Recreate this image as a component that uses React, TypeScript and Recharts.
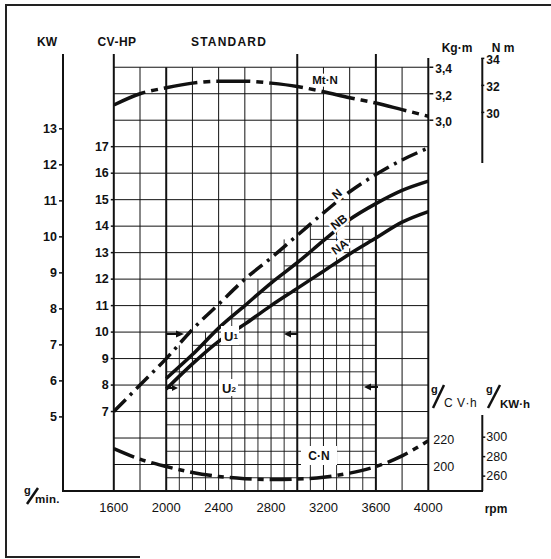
import React from 'react';
import { ComposedChart, Line, XAxis, YAxis, ReferenceLine } from 'recharts';

// ---------- data ----------
const rpm = [1600, 1800, 2000, 2200, 2400, 2600, 2800, 3000, 3200, 3400, 3600, 3800, 4000];
const powerN = [7.0, 8.0, 9.0, 10.1, 11.05, 12.0, 12.8, 13.65, 14.5, 15.3, 15.95, 16.5, 16.95];
const powerNB = [null, null, 8.25, 9.15, 10.15, 11.0, 11.85, 12.62, 13.45, 14.25, 14.85, 15.35, 15.7];
const powerNA = [null, null, 7.85, 8.8, 9.65, 10.3, 11.0, 11.65, 12.3, 12.95, 13.55, 14.15, 14.55];
const torqueMtN = [3.115, 3.2, 3.245, 3.28, 3.295, 3.295, 3.28, 3.255, 3.215, 3.17, 3.13, 3.08, 3.03];
const consumptionCN = [212, 204, 198.5, 194, 191, 189.3, 188.6, 189, 190.4, 193.5, 198.5, 206.5, 218];

// ---------- tick labels ----------
const rpmTicks = [1600, 2000, 2400, 2800, 3200, 3600, 4000];
const cvTicks = [7, 8, 9, 10, 11, 12, 13, 14, 15, 16, 17];
const kwTicks = [5, 6, 7, 8, 9, 10, 11, 12, 13];
const kgmTicks = [3.0, 3.2, 3.4];
const nmTicks = [30, 32, 34];
const gcvTicks = [200, 220];
const gkwTicks = [260, 280, 300];

// ---------- grid ----------
const gridRpm = [1800, 2000, 2200, 2400, 2600, 2800, 3000, 3200, 3400, 3600, 3800];
const thickRpm = [2000, 3000, 3600];
const tallRpm = [3000, 3600];
const gridHp = [5, 6, 7, 8, 9, 10, 11, 12, 13, 14, 15, 16, 17, 18, 19, 20];
const fineV = [
  { rpm: 2100, top: 9.5 }, { rpm: 2300, top: 10 }, { rpm: 2500, top: 11 },
  { rpm: 2700, top: 12 }, { rpm: 2900, top: 13.5 }, { rpm: 3100, top: 14 },
  { rpm: 3300, top: 14 }, { rpm: 3500, top: 14 },
];
const fineH = [
  { hp: 4.5, from: 2000 }, { hp: 5.5, from: 2000 }, { hp: 6.5, from: 2000 },
  { hp: 7.5, from: 2000 }, { hp: 8.5, from: 2000 }, { hp: 9.5, from: 2200 },
  { hp: 10.5, from: 2500 }, { hp: 11.5, from: 2700 }, { hp: 12.5, from: 2900 },
  { hp: 13.5, from: 3100 },
];

// ---------- unit relations ----------
const CV_PER_KW = 1.3596;
const NM_PER_KGM = 9.80665;
const HP_MIN = 4;
const HP_MAX = 20.5;
const kgmAt = (hp: number) => 3.4 - 0.2 * (20 - hp);
const gcvAt = (hp: number) => 200 + 20 * (hp - 5);

const data = rpm.map((r, i) => ({
  rpm: r,
  N: powerN[i],
  NB: powerNB[i],
  NA: powerNA[i],
  Mt: torqueMtN[i],
  CN: consumptionCN[i],
}));

const FONT = '"Liberation Sans", Arial, Helvetica, sans-serif';
const INK = '#111';

const mkTick = (o: { anchor: string; size: number; weight?: any; dy?: number; fmt?: (v: number) => string }) =>
  (p: any) => (
    <text
      x={p.x}
      y={p.y + (o.dy || 0)}
      textAnchor={o.anchor}
      dominantBaseline="central"
      fontSize={o.size}
      fontWeight={o.weight || 'normal'}
      fontFamily={FONT}
      fill={INK}
    >
      {o.fmt ? o.fmt(p.payload.value) : p.payload.value}
    </text>
  );

// stable (module level) axis settings
const tickX = mkTick({ anchor: 'middle', size: 13 });
const tickHp = mkTick({ anchor: 'end', size: 12.5, weight: 'bold' });
const tickKw = mkTick({ anchor: 'end', size: 12.5, weight: 'bold' });
const tickGcv = mkTick({ anchor: 'start', size: 12.5, dy: 2 });
const tickKgm = mkTick({ anchor: 'start', size: 12, weight: 'bold', dy: 2, fmt: (v) => v.toFixed(1).replace('.', ',') });
const tickNm = mkTick({ anchor: 'start', size: 12, weight: 'bold', dy: 2 });
const tickGkw = mkTick({ anchor: 'start', size: 12.5 });
const AXIS_LINE = { stroke: INK, strokeWidth: 2 };
const TICK_LINE = { stroke: INK, strokeWidth: 1.5 };
const X_DOMAIN = [1600, 4000];
const HP_DOMAIN = [HP_MIN, HP_MAX];
const KW_DOMAIN = [HP_MIN / CV_PER_KW, HP_MAX / CV_PER_KW];
const GCV_DOMAIN = [gcvAt(HP_MIN), gcvAt(HP_MAX)];
const KGM_DOMAIN = [kgmAt(HP_MIN), kgmAt(HP_MAX)];
const NM_DOMAIN = [kgmAt(HP_MIN) * NM_PER_KGM, kgmAt(HP_MAX) * NM_PER_KGM];
const GKW_DOMAIN = [gcvAt(HP_MIN) * CV_PER_KW, gcvAt(HP_MAX) * CV_PER_KW];
const MARGIN = { top: 54, right: 22.7, bottom: 38, left: 30 };

const Txt = ({ x, y, children, size = 12, weight = 'bold', anchor = 'middle', ls = 0, rot = 0, halo = false }: any) => (
  <text
    x={x}
    y={y}
    fontSize={size}
    fontWeight={weight}
    fontFamily={FONT}
    textAnchor={anchor}
    dominantBaseline="central"
    letterSpacing={ls}
    fill={INK}
    stroke={halo ? '#fff' : 'none'}
    strokeWidth={halo ? 5 : 0}
    paintOrder="stroke"
    transform={rot ? `rotate(${rot} ${x} ${y})` : undefined}
  >
    {children}
  </text>
);

export default function App() {
  return (
    <div style={{ position: 'absolute', left: 0, top: 0, width: 551, height: 559, background: '#fff' }}>
      <ComposedChart width={551} height={559} data={data} margin={MARGIN}>
        <XAxis
          dataKey="rpm"
          type="number"
          domain={X_DOMAIN}
          allowDataOverflow
          ticks={rpmTicks}
          interval={0}
          tickSize={0}
          tickMargin={16}
          height={30}
          axisLine={AXIS_LINE}
          tickLine={false}
          tick={tickX}
        />
        {/* left axes: CV-HP next to the plot, KW outside */}
        <YAxis
          yAxisId="a1hp"
          orientation="left"
          type="number"
          domain={HP_DOMAIN}
          allowDataOverflow
          ticks={cvTicks}
          interval={0}
          width={50.8}
          tickSize={3}
          tickMargin={2}
          axisLine={AXIS_LINE}
          tickLine={TICK_LINE}
          tick={tickHp}
        />
        <YAxis
          yAxisId="a2kw"
          orientation="left"
          type="number"
          domain={KW_DOMAIN}
          allowDataOverflow
          ticks={kwTicks}
          interval={0}
          width={33}
          tickSize={4}
          tickMargin={2}
          axisLine={AXIS_LINE}
          tickLine={TICK_LINE}
          tick={tickKw}
        />
        {/* right axes */}
        <YAxis
          yAxisId="b1gcv"
          orientation="right"
          type="number"
          domain={GCV_DOMAIN}
          allowDataOverflow
          ticks={gcvTicks}
          interval={0}
          width={1}
          tickSize={0}
          tickMargin={5}
          axisLine={false}
          tickLine={false}
          tick={tickGcv}
        />
        <YAxis
          yAxisId="b2kgm"
          orientation="right"
          type="number"
          domain={KGM_DOMAIN}
          allowDataOverflow
          ticks={kgmTicks}
          interval={0}
          width={52}
          tickSize={4}
          tickMargin={2}
          axisLine={false}
          tickLine={TICK_LINE}
          tick={tickKgm}
        />
        <YAxis
          yAxisId="b3nm"
          orientation="right"
          type="number"
          domain={NM_DOMAIN}
          allowDataOverflow
          ticks={nmTicks}
          interval={0}
          width={1}
          tickSize={3}
          tickMargin={2}
          axisLine={false}
          tickLine={TICK_LINE}
          tick={tickNm}
        />
        <YAxis
          yAxisId="b4gkw"
          orientation="right"
          type="number"
          domain={GKW_DOMAIN}
          allowDataOverflow
          ticks={gkwTicks}
          interval={0}
          width={46}
          tickSize={3}
          tickMargin={1}
          axisLine={false}
          tickLine={TICK_LINE}
          tick={tickGkw}
        />

        {/* grid */}
        {gridHp.map((h) => (
          <ReferenceLine key={'h' + h} yAxisId="a1hp" segment={[{ x: 1600, y: h }, { x: 4000, y: h }]} stroke={INK} strokeWidth={1} ifOverflow="visible" />
        ))}
        {gridRpm.map((r) => (
          <ReferenceLine
            key={'v' + r}
            yAxisId="a1hp"
            segment={[{ x: r, y: HP_MIN }, { x: r, y: tallRpm.includes(r) ? HP_MAX : 20 }]}
            stroke={INK}
            strokeWidth={thickRpm.includes(r) ? 2 : 1}
            ifOverflow="visible"
          />
        ))}
        <ReferenceLine yAxisId="a1hp" segment={[{ x: 4000, y: HP_MIN }, { x: 4000, y: 20.35 }]} stroke={INK} strokeWidth={2} ifOverflow="visible" />
        {fineV.map((f) => (
          <ReferenceLine key={'fv' + f.rpm} yAxisId="a1hp" segment={[{ x: f.rpm, y: HP_MIN }, { x: f.rpm, y: f.top }]} stroke={INK} strokeWidth={0.9} ifOverflow="visible" />
        ))}
        {fineH.map((f) => (
          <ReferenceLine key={'fh' + f.hp} yAxisId="a1hp" segment={[{ x: f.from, y: f.hp }, { x: 3600, y: f.hp }]} stroke={INK} strokeWidth={0.9} ifOverflow="visible" />
        ))}

        {/* curves */}
        <Line yAxisId="b2kgm" dataKey="Mt" type="monotone" stroke={INK} strokeWidth={3.5} strokeDasharray="34 6 7 6" dot={false} isAnimationActive={false} />
        <Line yAxisId="a1hp" dataKey="N" type="monotone" stroke={INK} strokeWidth={3.5} strokeDasharray="17 6 3 6" dot={false} isAnimationActive={false} />
        <Line yAxisId="a1hp" dataKey="NB" type="monotone" stroke={INK} strokeWidth={3.5} dot={false} isAnimationActive={false} />
        <Line yAxisId="a1hp" dataKey="NA" type="monotone" stroke={INK} strokeWidth={3.5} dot={false} isAnimationActive={false} />
        <Line yAxisId="b1gcv" dataKey="CN" type="monotone" stroke={INK} strokeWidth={3.5} strokeDasharray="22 6 6 6" dot={false} isAnimationActive={false} />
      </ComposedChart>

      {/* annotations & frame */}
      <svg width={551} height={559} style={{ position: 'absolute', left: 0, top: 0, pointerEvents: 'none' }}>
        {/* frame */}
        <line x1={6} y1={5} x2={551} y2={5} stroke="#222" strokeWidth={2} />
        <line x1={6} y1={4} x2={6} y2={558} stroke="#222" strokeWidth={2} />
        <line x1={6} y1={557} x2={140} y2={557} stroke="#222" strokeWidth={2} />

        {/* extra axis lines */}
        <line x1={62} y1={491} x2={483} y2={491} stroke={INK} strokeWidth={2} />
        <line x1={482.3} y1={58} x2={482.3} y2={163} stroke={INK} strokeWidth={2} />
        <line x1={482.3} y1={415} x2={482.3} y2={491} stroke={INK} strokeWidth={2} />

        {/* headers */}
        <Txt x={47} y={42}>KW</Txt>
        <Txt x={117} y={42} ls={0.5}>CV-HP</Txt>
        <Txt x={229} y={42} ls={1.2}>STANDARD</Txt>
        <Txt x={457} y={48}>Kg·m</Txt>
        <Txt x={503} y={48}>N m</Txt>

        {/* unit labels */}
        <text x={24} y={494} fontSize={11} fontWeight="bold" fontFamily={FONT} fill={INK}>g</text>
        <line x1={27} y1={504} x2={38} y2={488} stroke={INK} strokeWidth={2.5} />
        <text x={35} y={503} fontSize={11.5} fontWeight="bold" fontFamily={FONT} fill={INK} letterSpacing={0.3}>min.</text>

        <text x={431} y={393} fontSize={11} fontWeight="bold" fontFamily={FONT} fill={INK}>g</text>
        <line x1={433} y1={408} x2={444} y2={385} stroke={INK} strokeWidth={2.5} />
        <text x={444} y={407} fontSize={12} fontFamily={FONT} fill={INK} letterSpacing={0.5}>C V·h</text>

        <text x={486} y={393} fontSize={11} fontWeight="bold" fontFamily={FONT} fill={INK}>g</text>
        <line x1={488} y1={408} x2={500} y2={385} stroke={INK} strokeWidth={2.5} />
        <text x={500} y={408} fontSize={11.5} fontWeight="bold" fontFamily={FONT} fill={INK}>KW·h</text>

        <Txt x={496} y={509}>rpm</Txt>

        {/* curve labels */}
        <Txt x={325} y={80} size={11.5} halo>Mt·N</Txt>
        <Txt x={337} y={194} rot={-42} halo>N</Txt>
        <Txt x={339} y={222} rot={-38} halo>NB</Txt>
        <Txt x={340} y={247} rot={-36} halo>NA</Txt>

        <rect x={301} y={446} width={36} height={19} fill="#fff" />
        <Txt x={319} y={456}>C·N</Txt>

        <rect x={221} y={326} width={18} height={19} fill="#fff" />
        <text x={224} y={341} fontSize={13} fontWeight="bold" fontFamily={FONT} fill={INK}>
          U<tspan fontSize={8} dy={-2}>1</tspan>
        </text>
        <rect x={219} y={379} width={19} height={17} fill="#fff" />
        <text x={222} y={393} fontSize={13} fontWeight="bold" fontFamily={FONT} fill={INK}>
          U<tspan fontSize={8} dy={-1}>2</tspan>
        </text>

        {/* range arrows */}
        <line x1={167} y1={334} x2={177} y2={334} stroke={INK} strokeWidth={2} />
        <polygon points="176,330.5 184,334 176,337.5" fill={INK} />
        <line x1={290} y1={334} x2={298} y2={334} stroke={INK} strokeWidth={2} />
        <polygon points="291,330.5 284,334 291,337.5" fill={INK} />
        <line x1={370} y1={387} x2={378} y2={387} stroke={INK} strokeWidth={2} />
        <polygon points="371,383.5 364,387 371,390.5" fill={INK} />
        <line x1={167} y1={388} x2={173} y2={388} stroke={INK} strokeWidth={2} />
        <polygon points="172,385 178,388 172,391" fill={INK} />
      </svg>
    </div>
  );
}
